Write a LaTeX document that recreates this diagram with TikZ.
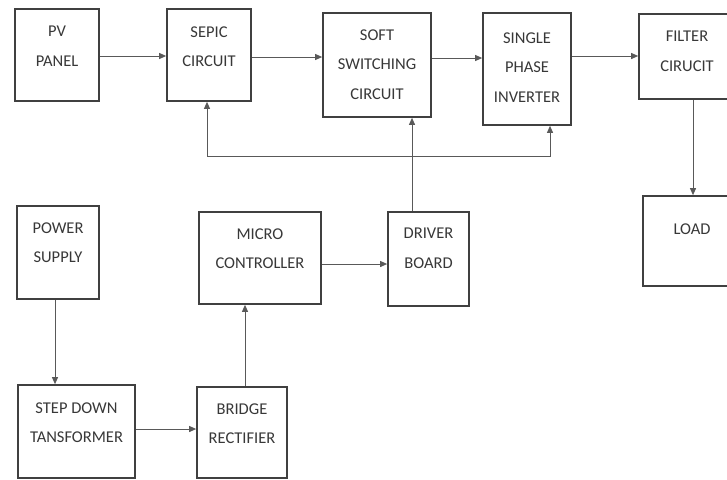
\documentclass[tikz,border=0pt]{standalone}
\usepackage{fontspec}
\setmainfont{Carlito}
\usetikzlibrary{arrows.meta}
\begin{document}
\begin{tikzpicture}[x=1pt,y=-1pt,
  blk/.style={draw=black!75,line width=1.7pt,fill=white,inner sep=0pt},
  lbl/.style={anchor=north,align=center,inner sep=0pt,text=black!78,
    font=\fontsize{16.5}{29.5}\selectfont},
  arr/.style={draw=black!65,line width=0.9pt,-{Triangle[length=7pt,width=6pt]}},
  arrb/.style={draw=black!65,line width=0.9pt,{Triangle[length=7pt,width=6pt]}-{Triangle[length=7pt,width=6pt]}}]
\useasboundingbox[fill=white] (0,0) rectangle (727,479);
% boxes
\node[blk,minimum width=84pt,minimum height=92pt]  (pv)     at (57,55) {};
\node[blk,minimum width=84pt,minimum height=92pt]  (sepic)  at (209,55) {};
\node[blk,minimum width=108pt,minimum height=104pt] (soft)  at (377,65) {};
\node[blk,minimum width=88pt,minimum height=112pt] (inv)    at (527,69) {};
\node[blk,minimum width=96pt,minimum height=85pt]  (filter) at (687,56.5) {};
\node[blk,minimum width=98pt,minimum height=90pt]  (load)   at (692,241) {};
\node[blk,minimum width=82pt,minimum height=93pt]  (power)  at (58,252.5) {};
\node[blk,minimum width=122pt,minimum height=92pt] (micro)  at (260,258) {};
\node[blk,minimum width=81pt,minimum height=94pt]  (driver) at (428.5,259) {};
\node[blk,minimum width=117pt,minimum height=93pt] (step)   at (76.5,431.5) {};
\node[blk,minimum width=90pt,minimum height=91pt]  (bridge) at (242,432.5) {};
% labels
\node[lbl] (tpv)     at ([yshift=-18pt]pv.north) {PV\\PANEL};
\node[lbl] (tsepic)  at ([yshift=-18pt]sepic.north) {SEPIC\\CIRCUIT};
\node[lbl] (tsoft)   at ([yshift=-17pt]soft.north) {SOFT\\SWITCHING\\CIRCUIT};
\node[lbl] (tinv)    at ([yshift=-20pt]inv.north) {SINGLE\\PHASE\\INVERTER};
\node[lbl] (tfilter) at ([yshift=-18pt]filter.north) {FILTER\\CIRUCIT};
\node[lbl] (tload)   at ([yshift=-28pt]load.north) {LOAD};
\node[lbl] (tpower)  at ([yshift=-17pt]power.north) {POWER\\SUPPLY};
\node[lbl] (tmicro)  at ([yshift=-17pt]micro.north) {MICRO\\CONTROLLER};
\node[lbl] (tdriver) at ([yshift=-17pt]driver.north) {DRIVER\\BOARD};
\node[lbl] (tstep)   at ([yshift=-18pt]step.north) {STEP DOWN\\TANSFORMER};
\node[lbl] (tbridge) at ([yshift=-17pt]bridge.north) {BRIDGE\\RECTIFIER};
% connectors
\coordinate (r1) at (0,56);
\coordinate (r2) at (0,57);
\coordinate (r3) at (0,58);
\draw[arr] (pv.east |- r1) -- (sepic.west |- r1);
\draw[arr] (sepic.east |- r2) -- (soft.west |- r2);
\draw[arr] (soft.east |- r3) -- (inv.west |- r3);
\draw[arr] (inv.east |- r1) -- (filter.west |- r1);
\coordinate (c1) at (693,0);
\draw[arr] (filter.south -| c1) -- (load.north -| c1);
\coordinate (c2) at (55,0);
\draw[arr] (power.south -| c2) -- (step.north -| c2);
\coordinate (r4) at (0,429);
\draw[arr] (step.east |- r4) -- (bridge.west |- r4);
\coordinate (c3) at (245,0);
\draw[arr] (bridge.north -| c3) -- (micro.south -| c3);
\coordinate (r5) at (0,264);
\draw[arr] (micro.east |- r5) -- (driver.west |- r5);
\coordinate (c4) at (412,0);
\draw[arr] (driver.north -| c4) -- (soft.south -| c4);
\coordinate (fbl) at (207,156);
\coordinate (fbr) at (550,156);
\draw[arrb] (sepic.south -| fbl) -- (fbl) -- (fbr) -- (inv.south -| fbr);
\end{tikzpicture}
\end{document}
